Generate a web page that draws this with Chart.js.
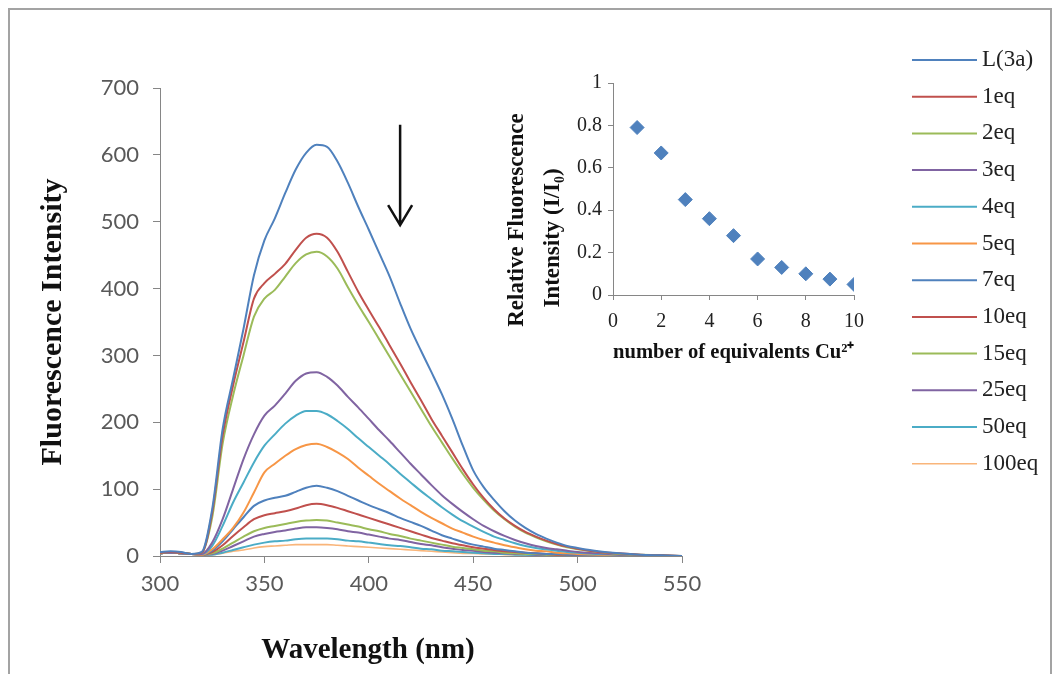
<!DOCTYPE html>
<html>
<head>
<meta charset="utf-8">
<script src="https://cdn.jsdelivr.net/npm/chart.js@4.4.1/dist/chart.umd.min.js"></script>
<style>
  html, body { margin: 0; padding: 0; background: #fff; }
  #wrap { position: relative; width: 1058px; height: 674px; overflow: hidden; background: #fff; }
  #frame { position: absolute; left: 8px; top: 8px; width: 1044px; height: 720px; border: 2px solid #a3a3a3; box-sizing: border-box; }
  #main { position: absolute; left: 0; top: 0; }
  #inset { position: absolute; left: 490px; top: 60px; }
</style>
</head>
<body>
<div id="wrap">
  <div id="frame"></div>
  <canvas id="main" width="1058" height="674"></canvas>
  <canvas id="inset" width="400" height="320"></canvas>
</div>
<script>
// emission spectra, wavelength in nm
const wavelengths = [300, 305, 310, 315, 320, 325, 330, 335, 340, 345, 350, 355, 360, 365, 370, 375, 380, 385, 390, 395,
  400, 405, 410, 415, 420, 425, 430, 435, 440, 445, 450, 455, 460, 465, 470, 475, 480, 485, 490, 495, 500,
  510, 520, 530, 540, 550];

const seriesNames = ['L(3a)', '1eq', '2eq', '3eq', '4eq', '5eq', '7eq', '10eq', '15eq', '25eq', '50eq', '100eq'];
const seriesColors = ['#4f81bd', '#c0504d', '#9bbb59', '#8064a2', '#4bacc6', '#f79646',
  '#4f81bd', '#c0504d', '#9bbb59', '#8064a2', '#4bacc6', '#f9b57a'];

const L3a = [6, 7, 6, 3, 6, 70, 190, 265, 340, 420, 472, 505, 543, 578, 603, 615, 612, 590, 558, 522,
  488, 453, 418, 378, 340, 307, 275, 242, 205, 165, 128, 103, 84, 67, 53, 42, 33, 26, 20, 15, 12, 7, 4, 2, 1, 0];
const eq1 = [5, 6, 5, 3, 5, 65, 180, 255, 320, 385, 408, 422, 437, 458, 476, 482, 476, 455, 425, 395,
  368, 342, 315, 288, 260, 233, 205, 180, 155, 130, 107, 87, 70, 56, 45, 36, 29, 23, 18, 14, 11, 6, 4, 2, 1, 0];
const eq2 = [5, 6, 5, 3, 5, 58, 168, 240, 300, 358, 385, 398, 418, 438, 451, 455, 448, 430, 402, 375,
  350, 324, 298, 272, 246, 220, 194, 170, 146, 123, 102, 84, 68, 55, 44, 35, 28, 22, 17, 13, 10, 6, 3, 2, 1, 0];
const eq3 = [5, 5, 4, 3, 3, 20, 55, 100, 145, 182, 210, 225, 243, 262, 273, 275, 268, 255, 238, 222,
  205, 188, 172, 155, 138, 122, 106, 91, 78, 66, 55, 45, 37, 30, 24, 19, 15, 12, 10, 8, 6, 4, 2, 1, 1, 0];
const eq4 = [4, 5, 4, 3, 3, 15, 45, 80, 110, 140, 165, 182, 198, 210, 217, 217, 212, 202, 190, 176,
  163, 150, 137, 123, 110, 97, 85, 73, 62, 52, 44, 36, 29, 24, 19, 15, 12, 10, 8, 6, 5, 3, 2, 1, 0, 0];
const eq5 = [4, 5, 4, 3, 2, 10, 25, 42, 65, 95, 125, 138, 150, 160, 166, 168, 163, 155, 145, 132,
  120, 108, 97, 86, 76, 66, 57, 49, 41, 35, 29, 24, 20, 16, 13, 10, 8, 7, 5, 4, 3, 2, 1, 1, 0, 0];
const eq7 = [4, 5, 4, 3, 2, 8, 22, 40, 58, 75, 83, 87, 90, 96, 102, 105, 102, 97, 90, 83,
  76, 70, 64, 57, 51, 45, 38, 31, 26, 21, 17, 14, 11, 9, 7, 5, 4, 3, 3, 2, 2, 1, 1, 0, 0, 0];
const eq10 = [4, 5, 4, 3, 2, 6, 16, 30, 43, 55, 61, 64, 67, 71, 76, 78, 76, 72, 67, 62,
  57, 52, 47, 42, 37, 32, 27, 23, 19, 16, 13, 11, 9, 7, 6, 5, 4, 3, 2, 2, 1, 1, 0, 0, 0, 0];
const eq15 = [4, 5, 4, 3, 2, 4, 11, 20, 29, 37, 42, 45, 48, 51, 53, 54, 53, 50, 47, 44,
  40, 37, 33, 30, 26, 23, 20, 17, 14, 12, 10, 8, 7, 5, 4, 3, 3, 2, 2, 1, 1, 0, 0, 0, 0, 0];
const eq25 = [4, 5, 4, 3, 2, 3, 8, 15, 22, 29, 33, 36, 38, 41, 43, 43, 42, 40, 37, 35,
  32, 29, 26, 24, 21, 18, 16, 13, 11, 9, 8, 6, 5, 4, 3, 3, 2, 2, 1, 1, 1, 0, 0, 0, 0, 0];
const eq50 = [4, 5, 4, 3, 2, 2, 5, 9, 13, 17, 20, 22, 23, 25, 26, 26, 26, 25, 23, 22,
  20, 18, 16, 15, 13, 11, 10, 8, 7, 6, 5, 4, 3, 3, 2, 2, 1, 1, 1, 1, 0, 0, 0, 0, 0, 0];
const eq100 = [5, 6, 5, 3, 2, 2, 4, 7, 9, 12, 14, 15, 16, 17, 17, 17, 17, 16, 15, 14,
  13, 12, 11, 10, 9, 8, 7, 6, 5, 4, 4, 3, 3, 2, 2, 1, 1, 1, 1, 0, 0, 0, 0, 0, 0, 0];

const seriesValues = [L3a, eq1, eq2, eq3, eq4, eq5, eq7, eq10, eq15, eq25, eq50, eq100];

// inset: relative intensity vs equivalents of Cu2+
const equivalents = [1, 2, 3, 4, 5, 6, 7, 8, 9, 10];
const relIntensity = [0.79, 0.67, 0.45, 0.36, 0.28, 0.17, 0.13, 0.10, 0.075, 0.05];

// arrow marker (in data units of the main chart)
const arrowNm = 415;
const arrowTop = 645;
const arrowBottom = 495;

const serif = '"Liberation Serif", "Times New Roman", serif';
const axisGrey = '#868686';

const legendaLateral = {
    id: 'legendaLateral',
    afterDraw(chart) {
        const ctx = chart.ctx;
        ctx.save();
        ctx.font = '23px ' + serif;
        ctx.textBaseline = 'middle';
        ctx.fillStyle = '#222';
        chart.data.datasets.forEach((ds, i) => {
            const y = 60 + i * 36.7;
            ctx.strokeStyle = ds.borderColor;
            ctx.lineWidth = ds.borderWidth;
            ctx.beginPath();
            ctx.moveTo(912, y);
            ctx.lineTo(977, y);
            ctx.stroke();
            ctx.fillText(ds.label, 982, y);
        });
        ctx.restore();
    }
};

const extras = {
    id: 'extras',
    afterDraw(chart) {
        const { ctx, scales } = chart;
        const ax = scales.x.getPixelForValue(arrowNm);
        const y1 = scales.y.getPixelForValue(arrowTop);
        const y2 = scales.y.getPixelForValue(arrowBottom);
        ctx.save();
        ctx.strokeStyle = '#111';
        ctx.lineWidth = 2.5;
        ctx.beginPath();
        ctx.moveTo(ax, y1);
        ctx.lineTo(ax, y2);
        ctx.moveTo(ax - 12, y2 - 20);
        ctx.lineTo(ax, y2);
        ctx.lineTo(ax + 12, y2 - 20);
        ctx.stroke();

        ctx.fillStyle = '#111';
        ctx.font = 'bold 29px ' + serif;
        ctx.textAlign = 'center';
        ctx.textBaseline = 'middle';
        ctx.fillText('Wavelength (nm)', 368, 651);
        ctx.restore();
    }
};

const grafico = new Chart(document.getElementById('main'), {
    type: 'line',
    data: {
        datasets: seriesValues.map((valores, i) => ({
            label: seriesNames[i],
            data: wavelengths.map((w, j) => ({ x: w, y: valores[j] })),
            borderColor: seriesColors[i],
            backgroundColor: seriesColors[i],
            borderWidth: i === 11 ? 1.6 : 2,
            pointRadius: 0,
            tension: 0.4,
            cubicInterpolationMode: 'monotone',
            fill: false
        }))
    },
    options: {
        responsive: false,
        animation: false,
        layout: { padding: { left: 35, right: 376, top: 88, bottom: 0 } },
        plugins: { legend: { display: false }, tooltip: { enabled: false } },
        scales: {
            x: {
                type: 'linear',
                min: 300,
                max: 550,
                ticks: { stepSize: 50, color: '#595959', font: { family: 'Lato', size: 22 }, padding: 8 },
                grid: { drawOnChartArea: false, tickLength: 7, color: axisGrey },
                border: { color: axisGrey },
                afterFit: (s) => { s.height = 118; }
            },
            y: {
                min: 0,
                max: 700,
                ticks: { stepSize: 100, color: '#595959', font: { family: 'Lato', size: 22 }, padding: 14 },
                grid: { drawOnChartArea: false, tickLength: 7, color: axisGrey },
                border: { color: axisGrey },
                title: {
                    display: true,
                    text: 'Fluorescence Intensity',
                    color: '#111',
                    font: { family: serif, size: 30, weight: 'bold' },
                    padding: 0
                },
                afterFit: (s) => { s.width = 125; }
            }
        }
    },
    plugins: [legendaLateral, extras]
});

const tituloInset = {
    id: 'tituloInset',
    afterDraw(chart) {
        const ctx = chart.ctx;
        const linhas = [['Relative Fluorescence', 27, 160], ['Intensity (I/I\u2080)', 63, 178]];
        linhas.forEach(([texto, x, y]) => {
            ctx.save();
            ctx.fillStyle = '#111';
            ctx.font = 'bold 23px ' + serif;
            ctx.textAlign = 'center';
            ctx.textBaseline = 'middle';
            ctx.translate(x, y);
            ctx.rotate(-Math.PI / 2);
            ctx.fillText(texto, 0, 0);
            ctx.restore();
        });
    }
};

const graficoInset = new Chart(document.getElementById('inset'), {
    type: 'scatter',
    data: {
        datasets: [{
            label: 'I/I0',
            data: equivalents.map((e, i) => ({ x: e, y: relIntensity[i] })),
            pointStyle: 'rectRot',
            pointRadius: 7,
            backgroundColor: '#4f81bd',
            borderColor: '#4f81bd'
        }]
    },
    options: {
        responsive: false,
        animation: false,
        layout: { padding: { left: 0, right: 36, top: 23, bottom: 0 } },
        plugins: { legend: { display: false }, tooltip: { enabled: false } },
        scales: {
            x: {
                type: 'linear',
                min: 0,
                max: 10,
                ticks: { stepSize: 2, color: '#222', font: { family: serif, size: 20 }, padding: 10 },
                grid: { drawOnChartArea: false, tickLength: 5, color: axisGrey },
                border: { color: axisGrey },
                title: {
                    display: true,
                    text: 'number of equivalents Cu\u00b2\u207a',
                    color: '#111',
                    font: { family: serif, size: 22, weight: 'bold' },
                    padding: { top: 0, bottom: 14 }
                },
                afterFit: (s) => { s.height = 85; }
            },
            y: {
                min: 0,
                max: 1,
                ticks: {
                    stepSize: 0.2,
                    color: '#222',
                    font: { family: serif, size: 20 },
                    padding: 6,
                    callback: (v) => String(Math.round(v * 10) / 10)
                },
                grid: { drawOnChartArea: false, tickLength: 5, color: axisGrey },
                border: { color: axisGrey },
                afterFit: (s) => { s.width = 123; }
            }
        }
    },
    plugins: [tituloInset]
});
</script>
</body>
</html>
